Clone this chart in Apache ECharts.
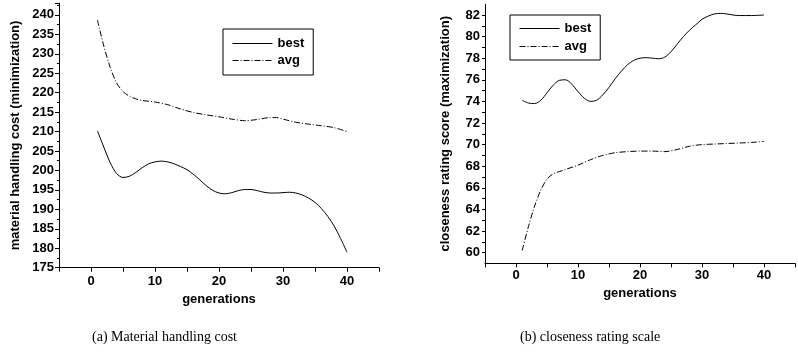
<!DOCTYPE html>
<html>
<head>
<meta charset="utf-8">
<script src="https://cdn.jsdelivr.net/npm/echarts@6/dist/echarts.min.js"></script>
<style>html,body{margin:0;padding:0;background:#fff}#c{width:798px;height:356px}</style>
</head>
<body>
<div id="c"></div>
<script>
// ---- data ----
var leftBestGen = [1,2,3,4,5,6,7,8,9,10,11,12,13,14,15,16,17,18,19,20,21,22,23,24,25,26,27,28,29,30,31,32,33,34,35,36,37,38,39,40];
var leftBestVal = [210.2,206,202,199.2,198.2,198.5,199.5,200.7,201.7,202.2,202.4,202.2,201.7,201,200.2,199,197.6,196.1,194.9,194.2,194,194.3,194.8,195.1,195.1,194.8,194.4,194.2,194.2,194.3,194.4,194.2,193.7,192.9,191.8,190.2,188.2,185.7,182.5,179];
var leftAvgGen = [1,2,3,4,5,6,7,8,10,12,14,16,18,20,22,24,26,28,29,30,32,34,36,38,40];
var leftAvgVal = [238.7,232,226.5,222.5,220.3,219.1,218.4,218,217.6,216.9,215.8,214.9,214.3,213.8,213.2,212.8,213.1,213.6,213.6,213.2,212.4,211.9,211.5,211,210];
var rightBestGen = [1,2,3,4,5,6,7,8,9,10,11,12,13,14,15,16,17,18,19,20,21,22,23,24,25,26,27,28,29,30,31,32,33,34,35,36,38,40];
var rightBestVal = [74.1,73.85,73.8,74.1,74.8,75.5,75.95,76,75.6,74.9,74.3,74,74.1,74.6,75.3,76.1,76.8,77.4,77.8,78,78.05,78,77.95,78.1,78.6,79.3,80,80.6,81.1,81.6,81.9,82.1,82.15,82.1,82,81.95,81.95,82];
var rightAvgGen = [1,2,3,4,5,6,7,8,10,12,14,16,18,20,22,24,26,28,30,32,34,36,38,40];
var rightAvgVal = [60.2,62.4,64.3,65.8,66.8,67.3,67.5,67.7,68.1,68.6,69,69.25,69.35,69.4,69.4,69.35,69.55,69.85,70,70.05,70.1,70.15,70.2,70.3];
var seriesNames = ['best', 'avg'];
var xName = 'generations';
var yNameLeft = 'material handling cost (minimization)';
var yNameRight = 'closeness rating score (maximization)';
var captionLeft = '(a) Material handling cost';
var captionRight = '(b) closeness rating scale';

function pairs(g, v) { return g.map(function (x, i) { return [x, v[i]]; }); }

var FONT = 'Liberation Sans, Arial, sans-serif';
var lbl = { color: '#000', fontFamily: FONT, fontWeight: 'bold', fontSize: 13 };
var axisLine = { show: true, onZero: false, lineStyle: { color: '#000', width: 1 } };

function xAxis(gi, margin, gap) {
  return {
    type: 'value', gridIndex: gi, min: -5, max: 45, interval: 5,
    name: xName, nameLocation: 'middle', nameGap: gap, nameTextStyle: lbl,
    axisLine: axisLine,
    axisTick: { show: true, inside: false, length: 4, lineStyle: { color: '#000' } },
    axisLabel: Object.assign({ margin: margin, showMinLabel: true, showMaxLabel: true,
      formatter: function (v) { return (v % 10 === 0) ? String(v) : ''; } }, lbl),
    splitLine: { show: false }
  };
}

var chart = echarts.init(document.getElementById('c'), null, { renderer: 'canvas' });
var solid = { color: '#000', width: 1, type: 'solid' };
var dashdot = { color: '#000', width: 1, type: [6, 2, 1, 2] };
var capStyle = { fontFamily: 'Liberation Serif, Times New Roman, serif', fontWeight: 'normal', fontSize: 14, color: '#000' };

chart.setOption({
  animation: false,
  backgroundColor: '#fff',
  title: [
    { text: captionLeft, left: 92, top: 330, padding: 0, textStyle: capStyle },
    { text: captionRight, left: 520, top: 330, padding: 0, textStyle: capStyle }
  ],
  legend: [
    { data: seriesNames.map(function (n) { return { name: n }; }), orient: 'vertical', left: 223, top: 29,
      padding: [8, 9, 8, 9], itemGap: 4, itemWidth: 40, itemHeight: 14,
      itemStyle: { opacity: 0 }, lineStyle: { inherit: true, width: 1 },
      borderColor: '#000', borderWidth: 1, textStyle: lbl, selectedMode: false },
    { data: seriesNames.map(function (n) { return { name: n + ' ' }; }), orient: 'vertical', left: 510, top: 15,
      padding: [7, 9, 7, 9], itemGap: 5, itemWidth: 40, itemHeight: 14,
      itemStyle: { opacity: 0 }, lineStyle: { inherit: true, width: 1 },
      borderColor: '#000', borderWidth: 1, textStyle: lbl, selectedMode: false,
      formatter: function (n) { return n.trim(); } }
  ],
  grid: [
    { left: 59, top: 3.2, width: 320, height: 264.5, containLabel: false },
    { left: 485, top: 4.2, width: 315, height: 259.2, containLabel: false }
  ],
  xAxis: [xAxis(0, 7, 13), xAxis(1, 6, 21)],
  yAxis: [
    { type: 'value', gridIndex: 0, min: 175, max: 243, interval: 5,
      name: yNameLeft, nameLocation: 'middle', nameGap: 37, nameRotate: 90, nameTextStyle: lbl,
      axisLine: axisLine,
      axisTick: { show: true, inside: false, length: 4, lineStyle: { color: '#000' } },
      minorTick: { show: true, splitNumber: 2, length: 2, lineStyle: { color: '#000' } },
      axisLabel: Object.assign({ margin: 5, showMaxLabel: false }, lbl),
      splitLine: { show: false } },
    { type: 'value', gridIndex: 1, min: 59, max: 83, interval: 1,
      name: yNameRight, nameLocation: 'middle', nameGap: 33, nameRotate: 90, nameTextStyle: lbl,
      axisLine: axisLine,
      axisTick: { show: true, inside: false, length: 3, lineStyle: { color: '#000' } },
      axisLabel: Object.assign({ margin: 5, showMaxLabel: false, showMinLabel: false,
        formatter: function (v) { return (v % 2 === 0) ? String(v) : ''; } }, lbl),
      splitLine: { show: false } }
  ],
  series: [
    { name: seriesNames[0], type: 'line', xAxisIndex: 0, yAxisIndex: 0, data: pairs(leftBestGen, leftBestVal),
      smooth: 0.3, symbol: 'none', lineStyle: solid, itemStyle: { color: '#000' } },
    { name: seriesNames[1], type: 'line', xAxisIndex: 0, yAxisIndex: 0, data: pairs(leftAvgGen, leftAvgVal),
      smooth: 0.3, symbol: 'none', lineStyle: dashdot, itemStyle: { color: '#000' } },
    { name: seriesNames[0] + ' ', type: 'line', xAxisIndex: 1, yAxisIndex: 1, data: pairs(rightBestGen, rightBestVal),
      smooth: 0.3, symbol: 'none', lineStyle: solid, itemStyle: { color: '#000' } },
    { name: seriesNames[1] + ' ', type: 'line', xAxisIndex: 1, yAxisIndex: 1, data: pairs(rightAvgGen, rightAvgVal),
      smooth: 0.3, symbol: 'none', lineStyle: dashdot, itemStyle: { color: '#000' } }
  ]
});
</script>
</body>
</html>
